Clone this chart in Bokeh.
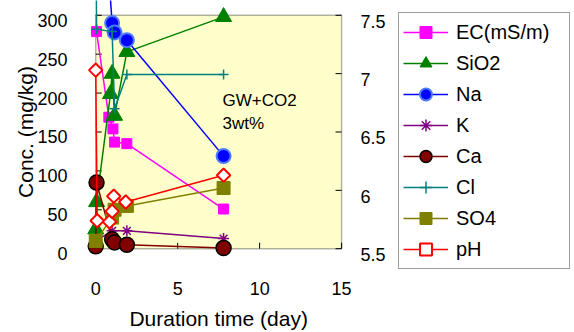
import math
from bokeh.plotting import figure
from bokeh.models import Range1d, BoxAnnotation, Legend, LegendItem, Label
from bokeh.core.properties import value
from bokeh.embed import file_html
from bokeh.resources import INLINE

# ---------------- data ----------------
ec_t = [0.05, 0.8, 1.05, 1.15, 1.9, 7.8]
ec_v = [279, 169, 154, 137, 135, 51]

sio2_t = [0.0, 0.05, 0.9, 1.0, 1.15, 1.9, 7.8]
sio2_v = [25, 60, 199, 225, 171, 253, 298]

na_t = [0.8, 1.0, 1.15, 1.9, 7.8]
na_v = [350, 290, 278, 268, 119]

k_t = [0.0, 1.0, 1.9, 7.8]
k_v = [10, 23, 23, 13]

ca_t = [0.0, 0.05, 1.0, 1.15, 1.9, 7.8]
ca_v = [3, 85, 12, 8, 5, 1]

cl_t = [0.0, 0.05, 1.0, 1.15, 1.9, 7.8]
cl_v = [470, 282, 279, 180, 224, 224]

so4_t = [0.0, 1.0, 1.15, 1.9, 7.8]
so4_v = [10, 40, 50, 55, 78]

ph_t = [0.0, 0.09, 0.84, 1.0, 1.1, 1.83, 7.8]
ph_v = [7.03, 5.74, 5.73, 5.82, 5.95, 5.90, 6.13]

conc_ticks = [0, 50, 100, 150, 200, 250, 300]
conc_labels = ["0", "50", "100", "150", "200", "250", "300"]
time_ticks = [0, 5, 10, 15]
time_labels = ["0", "5", "10", "15"]
ph_ticks = [5.5, 6, 6.5, 7, 7.5]
ph_labels = ["5.5", "6", "6.5", "7", "7.5"]

FONT = "Liberation Sans"
X_MAX = 15          # end of the time axis
C_MAX = 300         # end of the concentration axis

# the frame covers the whole canvas; axes are drawn through the data scales
p = figure(width=574, height=332,
           x_range=Range1d(-5.81, 29.21), y_range=Range1d(-107.7, 319.0),
           output_backend="svg", toolbar_location=None,
           min_border_left=0, min_border_right=0,
           min_border_top=0, min_border_bottom=0,
           outline_line_color=None, background_fill_color="white",
           border_fill_color="white")
p.grid.visible = False
p.xaxis.visible = False
p.yaxis.visible = False
p.extra_y_ranges = {"ph": Range1d(5.5 - 107.7 / 150, 5.5 + 319.0 / 150)}

# plot area (yellow box with black border)
p.add_layout(BoxAnnotation(left=0, right=X_MAX, bottom=0, top=C_MAX,
                           fill_color="#FFFFCC", fill_alpha=1.0,
                           line_color="black", line_width=1.5,
                           level="underlay"))

# inward tick marks (left, bottom, right)
p.segment(x0=[0] * len(conc_ticks), y0=conc_ticks,
          x1=[0.37] * len(conc_ticks), y1=conc_ticks,
          line_color="black", line_width=1)
p.segment(x0=time_ticks, y0=[0] * len(time_ticks),
          x1=time_ticks, y1=[7.7] * len(time_ticks),
          line_color="black", line_width=1)
p.segment(x0=[X_MAX - 0.37] * len(ph_ticks), y0=ph_ticks,
          x1=[X_MAX] * len(ph_ticks), y1=ph_ticks,
          line_color="black", line_width=1, y_range_name="ph")

# tick labels
p.text(x=[-1.72] * len(conc_ticks), y=conc_ticks, text=conc_labels,
       text_baseline="middle", text_align="right", y_offset=5,
       text_font=value(FONT), text_font_size="18px", text_color="black")
p.text(x=time_ticks, y=[-51.2] * len(time_ticks), text=time_labels,
       text_baseline="middle", text_align="center",
       text_font=value(FONT), text_font_size="18px", text_color="black")
p.text(x=[X_MAX + 1.16] * len(ph_ticks), y=ph_ticks, text=ph_labels,
       text_baseline="middle", text_align="left", y_offset=6,
       text_font=value(FONT), text_font_size="18px", text_color="black",
       y_range_name="ph")

# axis titles
p.text(x=[-4.28], y=[C_MAX / 2], text=["Conc. (mg/kg)"], angle=math.pi / 2,
       text_baseline="middle", text_align="center",
       text_font=value(FONT), text_font_size="21px", text_color="black")
p.text(x=[X_MAX / 2], y=[-89.7], text=["Duration time (day)"],
       text_baseline="middle", text_align="center",
       text_font=value(FONT), text_font_size="21px", text_color="black")

items = []


def series(label, t, v, color, marker, size, fill, edge, lw=1.5,
           rng="default", angle=0.0):
    rl = p.line(t, v, line_color=color, line_width=1.5, y_range_name=rng)
    rs = p.scatter(t, v, marker=marker, size=size, fill_color=fill,
                   line_color=edge, line_width=lw, angle=angle,
                   y_range_name=rng)
    items.append(LegendItem(label=label, renderers=[rl, rs]))


series("EC(mS/m)", ec_t, ec_v, "#FF00FF", "square", 10, "#FF00FF", "#FF00FF", 1)
series("SiO2", sio2_t, sio2_v, "#008000", "triangle", 16, "#008000", "#008000", 1)
series("Na", na_t, na_v, "#0000FF", "circle", 14, "#0000FF", "#4D7BFF", 2)
series("K", k_t, k_v, "#800080", "asterisk", 11, "#800080", "#800080", 1.5)
series("Ca", ca_t, ca_v, "#800000", "circle", 15, "#800000", "black", 1.5)
series("Cl", cl_t, cl_v, "#008080", "cross", 10, "#008080", "#008080", 1.5)
series("SO4", so4_t, so4_v, "#808000", "square", 13, "#808000", "#808000", 1)
series("pH", ph_t, ph_v, "#FF0000", "square", 9.5, "white", "#FF0000", 2,
       rng="ph", angle=math.pi / 4)

legend = Legend(items=items, location=(398, 63),
                label_text_font=FONT, label_text_font_size="20px",
                label_text_color="black",
                glyph_width=45, glyph_height=30, label_height=30,
                label_width=109, label_standoff=8,
                spacing=1, padding=4, margin=0,
                border_line_color="#404040", border_line_width=1,
                background_fill_color="white", background_fill_alpha=1.0)
p.add_layout(legend)

p.add_layout(Label(x=7.73, y=190, text="GW+CO2", text_baseline="middle",
                   text_font=FONT, text_font_size="17px", text_color="black"))
p.add_layout(Label(x=7.73, y=161, text="3wt%", text_baseline="middle",
                   text_font=FONT, text_font_size="17px", text_color="black"))

open("out.html", "w").write(file_html(p, INLINE))
